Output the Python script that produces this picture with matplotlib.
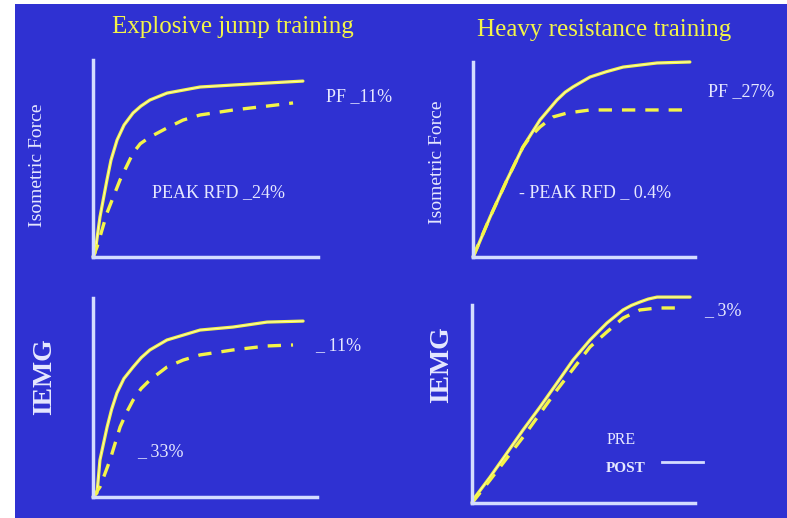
import matplotlib
matplotlib.use("Agg")
import matplotlib.pyplot as plt
from matplotlib.patches import Rectangle

W, H = 787, 518
BLUE = '#2f31d2'
AXC = '#d4dcff'
YEL = '#f4f448'
TXT = '#e6e8ff'

plt.rcParams['font.family'] = ['Liberation Serif', 'DejaVu Serif']

# --- data (0-100 along each axis) ---
# Explosive jump training, isometric force
tl_post_x = [0, 0.9, 3.1, 6.2, 8.0, 10.7, 13.8, 17.8, 21.3, 25.3, 32.9, 47.6, 62.2, 77.3, 93.3]
tl_post_y = [0, 2.0, 20.3, 39.1, 49.2, 59.4, 67.0, 73.1, 76.6, 79.7, 83.2, 86.3, 87.3, 88.3, 89.3]
tl_pre_x = [0, 1.8, 6.2, 12.0, 17.8, 21.0, 25.3, 32.9, 40.0, 47.6, 62.2, 77.3, 88.9]
tl_pre_y = [0, 5.1, 22.3, 39.1, 52.8, 57.5, 60.9, 65.5, 69.5, 72.1, 74.6, 76.6, 78.2]

# Heavy resistance training, isometric force
tr_post_x = [0, 0.9, 7.7, 15.3, 22.5, 30.2, 37.8, 41.5, 45.0, 52.7, 60.0, 67.6, 82.9, 97.7]
tr_post_y = [0, 2.1, 20.5, 39.5, 56.4, 70.3, 80.5, 84.5, 87.2, 92.3, 95.0, 97.4, 99.5, 100.0]
tr_pre_x = [0, 7.7, 15.3, 22.5, 25.7, 30.2, 36.0, 42.3, 52.7, 94.6]
tr_pre_y = [0, 20.5, 39.5, 56.4, 61.5, 66.7, 71.8, 73.8, 75.4, 75.4]

# Explosive jump training, IEMG
bl_post_x = [0, 1.8, 3.1, 6.3, 8.3, 10.7, 13.8, 17.9, 21.5, 25.4, 33.0, 47.8, 62.5, 77.7, 93.8]
bl_post_y = [0, 2.0, 18.6, 35.2, 44.0, 52.3, 59.5, 65.3, 70.0, 73.9, 78.9, 83.9, 85.4, 87.9, 88.4]
bl_pre_x = [0, 3.1, 7.6, 12.1, 15.0, 17.9, 21.5, 25.4, 33.0, 40.2, 47.8, 62.5, 77.7, 89.3]
bl_pre_y = [0, 5.0, 18.6, 35.2, 42.5, 48.7, 54.5, 58.8, 65.3, 68.8, 71.4, 73.9, 75.9, 76.4]

# Heavy resistance training, IEMG
br_post_x = [0, 0.4, 8.1, 15.7, 22.9, 30.5, 38.1, 45.3, 52.9, 60.5, 67.7, 71.5, 75.3, 79.0,
             83.0, 97.8]
br_post_y = [0, 1.5, 13.1, 25.3, 36.9, 48.5, 60.6, 72.2, 82.3, 90.9, 97.5, 99.8, 101.5, 103.0,
             104.0, 104.0]
br_pre_x = [0, 8.1, 22.9, 38.1, 52.9, 60.5, 67.7, 75.3, 83.0, 94.6]
br_pre_y = [0, 11.6, 33.3, 57.1, 78.8, 86.4, 93.4, 97.5, 98.5, 98.5]

titles = ['Explosive jump training', 'Heavy resistance training']
ylabels = ['Isometric Force', 'IEMG']


def px_axes(fig, x0, y0, x1, y1):
    return fig.add_axes([x0 / W, 1 - y1 / H, (x1 - x0) / W, (y1 - y0) / H])


def ftext(fig, x, y, s, **kw):
    fig.text(x / W, 1 - y / H, s, **kw)


fig = plt.figure(figsize=(W / 100, H / 100), dpi=100, facecolor='white')
fig.patches.append(Rectangle((15 / W, 0), 1, 1 - 4 / H, transform=fig.transFigure,
                             facecolor=BLUE, edgecolor='none', zorder=-5))

panels = [
    ((93, 60, 318, 257), tl_post_x, tl_post_y, tl_pre_x, tl_pre_y),
    ((473, 62, 695, 257), tr_post_x, tr_post_y, tr_pre_x, tr_pre_y),
    ((93, 298, 317, 497), bl_post_x, bl_post_y, bl_pre_x, bl_pre_y),
    ((472, 305, 695, 503), br_post_x, br_post_y, br_pre_x, br_pre_y),
]

for box, px, py, qx, qy in panels:
    ax = px_axes(fig, *box)
    ax.set_facecolor('none')
    ax.set_zorder(2)
    ax.set_xlim(0, 100)
    ax.set_ylim(0, 100)
    for side in ['top', 'right']:
        ax.spines[side].set_visible(False)
    for side in ['left', 'bottom']:
        ax.spines[side].set_color(AXC)
        ax.spines[side].set_linewidth(2.5)
    ax.set_xticks([])
    ax.set_yticks([])
    ax.plot(px, py, color=YEL, lw=2.3, clip_on=False, solid_joinstyle='round',
            solid_capstyle='round')
    ax.plot(px, py, color='white', lw=0.7, alpha=0.6, clip_on=False, solid_joinstyle='round')
    ax.plot(qx, qy, color=YEL, lw=2.4, ls=(0, (4, 3)), clip_on=False, dash_joinstyle='round')

# titles
ftext(fig, 233, 27, titles[0], color=YEL, fontsize=18, ha='center', va='center')
ftext(fig, 604, 30, titles[1], color=YEL, fontsize=18, ha='center', va='center')

# y labels
ftext(fig, 38, 165, ylabels[0], color=TXT, fontsize=14, rotation=90, ha='center', va='center')
ftext(fig, 437, 162, ylabels[0], color=TXT, fontsize=14, rotation=90, ha='center', va='center')
ftext(fig, 45, 377, ylabels[1], color=TXT, fontsize=20, fontweight='bold', rotation=90,
      ha='center', va='center')
ftext(fig, 442, 365, ylabels[1], color=TXT, fontsize=20, fontweight='bold', rotation=90,
      ha='center', va='center')

# annotations
ftext(fig, 326, 97, 'PF _11%', color=TXT, fontsize=13, va='center')
ftext(fig, 152, 193, 'PEAK RFD _24%', color=TXT, fontsize=13, va='center')
ftext(fig, 708, 92, 'PF _27%', color=TXT, fontsize=13, va='center')
ftext(fig, 519, 193, '- PEAK RFD _ 0.4%', color=TXT, fontsize=13, va='center')
ftext(fig, 315, 346, '_ 11%', color=TXT, fontsize=13, va='center')
ftext(fig, 137, 452, '_ 33%', color=TXT, fontsize=13, va='center')
ftext(fig, 704, 311, '_ 3%', color=TXT, fontsize=13, va='center')

# legend
ftext(fig, 607, 440, 'PRE', color=TXT, fontsize=11.5, va='center')
ftext(fig, 606, 468, 'POST', color=TXT, fontsize=11, fontweight='bold', va='center')
fig.add_artist(plt.Line2D([662 / W, 703 / W], [1 - 462 / H, 1 - 462 / H],
                          color=AXC, lw=2, transform=fig.transFigure))

fig.savefig('out.png', dpi=100, facecolor=fig.get_facecolor())
